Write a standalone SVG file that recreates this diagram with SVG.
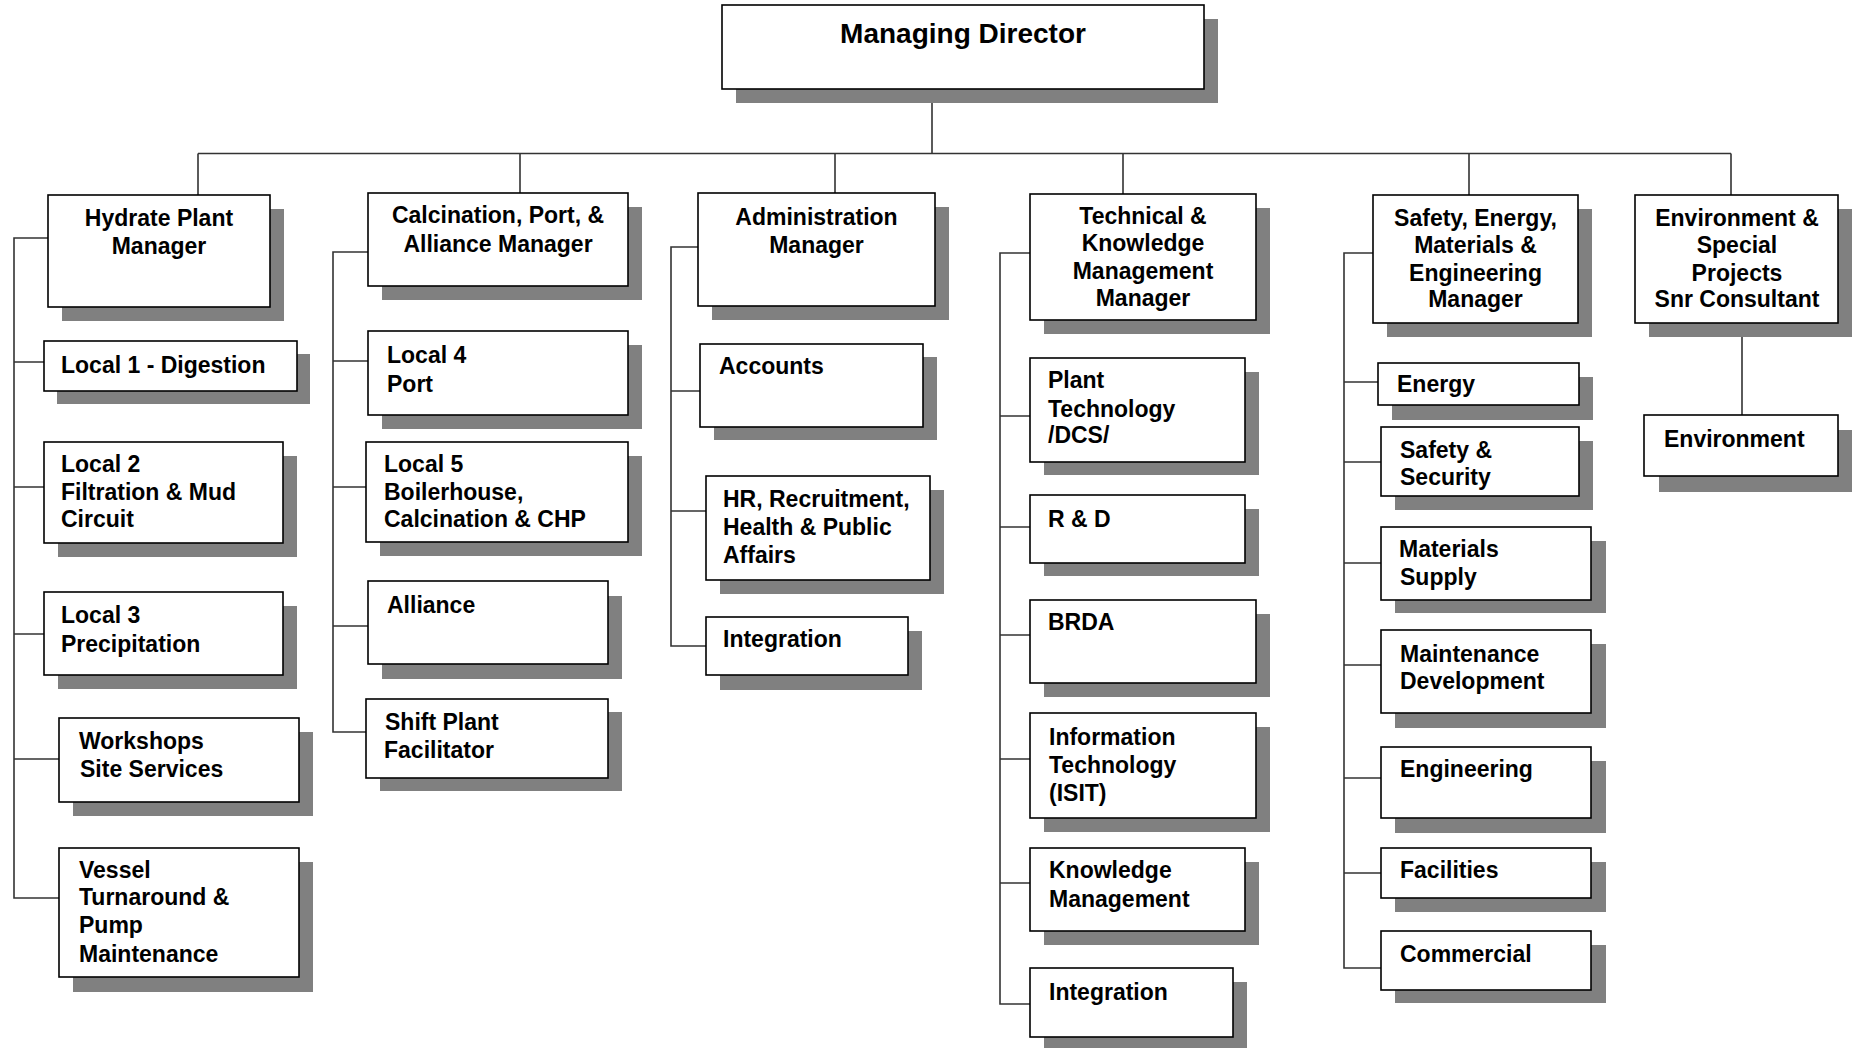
<svg xmlns="http://www.w3.org/2000/svg" width="1852" height="1048" viewBox="0 0 1852 1048">
<style>
.sh{fill:#808080}
.bx{fill:#fff;stroke:#000;stroke-width:1.6}
.t{font-family:"Liberation Sans",Arial,sans-serif;font-weight:bold;font-size:23px;fill:#000}
.c{text-anchor:middle}
.big{font-size:28px}
.cn{fill:none;stroke:#333;stroke-width:1.6}
</style>
<rect width="1852" height="1048" fill="#fff"/>
<g id="connectors">
<path class="cn" d="M932 89V153.5M198 153.5H1731M198 153.5V195M520 153.5V193M835 153.5V193M1123 153.5V194M1469 153.5V195M1731 153.5V195"/>
<path class="cn" d="M48 238H14V898H59M14 362H44M14 487H44M14 634H44M14 759H59"/>
<path class="cn" d="M368 252H333V732H366M333 361H368M333 487H366M333 626H368"/>
<path class="cn" d="M698 247H671V646H706M671 391H700M671 511H706"/>
<path class="cn" d="M1030 253H1000V1004H1030M1000 416H1030M1000 527H1030M1000 635H1030M1000 759H1030M1000 883H1030"/>
<path class="cn" d="M1373 253H1344V968H1381M1344 382H1378M1344 462H1381M1344 563H1381M1344 665H1381M1344 778H1381M1344 873H1381"/>
<path class="cn" d="M1742 323V415"/>
</g>
<g id="md"><rect class="sh" x="736" y="19" width="482" height="84"/><rect class="bx" x="722" y="5" width="482" height="84"/><text class="t c big" x="963" y="43">Managing Director</text></g>
<g id="hydrate"><rect class="sh" x="62" y="209" width="222" height="112"/><rect class="bx" x="48" y="195" width="222" height="112"/><text class="t c" x="159" y="226">Hydrate Plant<tspan x="159" y="254">Manager</tspan></text></g>
<g id="calcination"><rect class="sh" x="382" y="207" width="260" height="93"/><rect class="bx" x="368" y="193" width="260" height="93"/><text class="t c" x="498" y="223">Calcination, Port, &amp;<tspan x="498" y="252">Alliance Manager</tspan></text></g>
<g id="admin"><rect class="sh" x="712" y="207" width="237" height="113"/><rect class="bx" x="698" y="193" width="237" height="113"/><text class="t c" x="816.5" y="225">Administration<tspan x="816.5" y="253">Manager</tspan></text></g>
<g id="technical"><rect class="sh" x="1044" y="208" width="226" height="126"/><rect class="bx" x="1030" y="194" width="226" height="126"/><text class="t c" x="1143" y="224">Technical &amp;<tspan x="1143" y="251">Knowledge</tspan><tspan x="1143" y="279">Management</tspan><tspan x="1143" y="306">Manager</tspan></text></g>
<g id="safety-mgr"><rect class="sh" x="1387" y="209" width="205" height="128"/><rect class="bx" x="1373" y="195" width="205" height="128"/><text class="t c" x="1475.5" y="226">Safety, Energy,<tspan x="1475.5" y="253">Materials &amp;</tspan><tspan x="1475.5" y="281">Engineering</tspan><tspan x="1475.5" y="307">Manager</tspan></text></g>
<g id="env-mgr"><rect class="sh" x="1649" y="209" width="203" height="128"/><rect class="bx" x="1635" y="195" width="203" height="128"/><text class="t c" x="1737" y="226">Environment &amp;<tspan x="1737" y="253">Special</tspan><tspan x="1737" y="281">Projects</tspan><tspan x="1737" y="307">Snr Consultant</tspan></text></g>
<g id="local1"><rect class="sh" x="57" y="354" width="253" height="50"/><rect class="bx" x="44" y="341" width="253" height="50"/><text class="t" x="61" y="373">Local 1 - Digestion</text></g>
<g id="local2"><rect class="sh" x="58" y="456" width="239" height="101"/><rect class="bx" x="44" y="442" width="239" height="101"/><text class="t" x="61" y="472">Local 2<tspan x="61" y="500">Filtration &amp; Mud</tspan><tspan x="61" y="527">Circuit</tspan></text></g>
<g id="local3"><rect class="sh" x="58" y="606" width="239" height="83"/><rect class="bx" x="44" y="592" width="239" height="83"/><text class="t" x="61" y="623">Local 3<tspan x="61" y="652">Precipitation</tspan></text></g>
<g id="workshops"><rect class="sh" x="73" y="732" width="240" height="84"/><rect class="bx" x="59" y="718" width="240" height="84"/><text class="t" x="79" y="749">Workshops<tspan x="80" y="777">Site Services</tspan></text></g>
<g id="vessel"><rect class="sh" x="73" y="862" width="240" height="130"/><rect class="bx" x="59" y="848" width="240" height="129"/><text class="t" x="79" y="878">Vessel<tspan x="79" y="905">Turnaround &amp;</tspan><tspan x="79" y="933">Pump</tspan><tspan x="79" y="962">Maintenance</tspan></text></g>
<g id="local4"><rect class="sh" x="382" y="345" width="260" height="84"/><rect class="bx" x="368" y="331" width="260" height="84"/><text class="t" x="387" y="363">Local 4<tspan x="387" y="392">Port</tspan></text></g>
<g id="local5"><rect class="sh" x="380" y="456" width="262" height="100"/><rect class="bx" x="366" y="442" width="262" height="100"/><text class="t" x="384" y="472">Local 5<tspan x="384" y="500">Boilerhouse,</tspan><tspan x="384" y="527">Calcination &amp; CHP</tspan></text></g>
<g id="alliance"><rect class="sh" x="382" y="596" width="240" height="83"/><rect class="bx" x="368" y="581" width="240" height="83"/><text class="t" x="387" y="613">Alliance</text></g>
<g id="shift"><rect class="sh" x="380" y="712" width="242" height="79"/><rect class="bx" x="366" y="699" width="242" height="79"/><text class="t" x="385" y="730">Shift Plant<tspan x="384" y="758">Facilitator</tspan></text></g>
<g id="accounts"><rect class="sh" x="714" y="357" width="223" height="83"/><rect class="bx" x="700" y="344" width="223" height="83"/><text class="t" x="719" y="374">Accounts</text></g>
<g id="hr"><rect class="sh" x="720" y="490" width="224" height="104"/><rect class="bx" x="706" y="476" width="224" height="104"/><text class="t" x="723" y="507">HR, Recruitment,<tspan x="723" y="535">Health &amp; Public</tspan><tspan x="723" y="563">Affairs</tspan></text></g>
<g id="integration-admin"><rect class="sh" x="720" y="631" width="202" height="59"/><rect class="bx" x="706" y="617" width="202" height="58"/><text class="t" x="723" y="647">Integration</text></g>
<g id="plant-tech"><rect class="sh" x="1044" y="372" width="215" height="103"/><rect class="bx" x="1030" y="358" width="215" height="104"/><text class="t" x="1048" y="388">Plant<tspan x="1048" y="417">Technology</tspan><tspan x="1048" y="443">/DCS/</tspan></text></g>
<g id="rd"><rect class="sh" x="1044" y="509" width="215" height="67"/><rect class="bx" x="1030" y="495" width="215" height="68"/><text class="t" x="1048" y="527">R &amp; D</text></g>
<g id="brda"><rect class="sh" x="1044" y="614" width="226" height="83"/><rect class="bx" x="1030" y="600" width="226" height="83"/><text class="t" x="1048" y="630">BRDA</text></g>
<g id="it"><rect class="sh" x="1044" y="727" width="226" height="105"/><rect class="bx" x="1030" y="713" width="226" height="105"/><text class="t" x="1049" y="745">Information<tspan x="1049" y="773">Technology</tspan><tspan x="1049" y="801">(ISIT)</tspan></text></g>
<g id="km"><rect class="sh" x="1044" y="862" width="215" height="83"/><rect class="bx" x="1030" y="848" width="215" height="83"/><text class="t" x="1049" y="878">Knowledge<tspan x="1049" y="907">Management</tspan></text></g>
<g id="integration-tech"><rect class="sh" x="1044" y="982" width="203" height="69"/><rect class="bx" x="1030" y="968" width="203" height="69"/><text class="t" x="1049" y="1000">Integration</text></g>
<g id="energy"><rect class="sh" x="1392" y="377" width="201" height="43"/><rect class="bx" x="1378" y="363" width="201" height="42"/><text class="t" x="1397" y="392">Energy</text></g>
<g id="safety-security"><rect class="sh" x="1395" y="441" width="198" height="69"/><rect class="bx" x="1381" y="427" width="198" height="69"/><text class="t" x="1400" y="458">Safety &amp;<tspan x="1400" y="485">Security</tspan></text></g>
<g id="materials"><rect class="sh" x="1395" y="541" width="211" height="72"/><rect class="bx" x="1381" y="527" width="210" height="73"/><text class="t" x="1399" y="557">Materials<tspan x="1400" y="585">Supply</tspan></text></g>
<g id="maintenance"><rect class="sh" x="1395" y="644" width="211" height="84"/><rect class="bx" x="1381" y="630" width="210" height="83"/><text class="t" x="1400" y="662">Maintenance<tspan x="1400" y="689">Development</tspan></text></g>
<g id="engineering"><rect class="sh" x="1395" y="761" width="211" height="72"/><rect class="bx" x="1381" y="747" width="210" height="71"/><text class="t" x="1400" y="777">Engineering</text></g>
<g id="facilities"><rect class="sh" x="1395" y="862" width="211" height="50"/><rect class="bx" x="1381" y="848" width="210" height="50"/><text class="t" x="1400" y="878">Facilities</text></g>
<g id="commercial"><rect class="sh" x="1395" y="945" width="211" height="58"/><rect class="bx" x="1381" y="931" width="210" height="59"/><text class="t" x="1400" y="962">Commercial</text></g>
<g id="environment"><rect class="sh" x="1659" y="430" width="193" height="62"/><rect class="bx" x="1644" y="415" width="194" height="61"/><text class="t" x="1664" y="447">Environment</text></g>
</svg>
